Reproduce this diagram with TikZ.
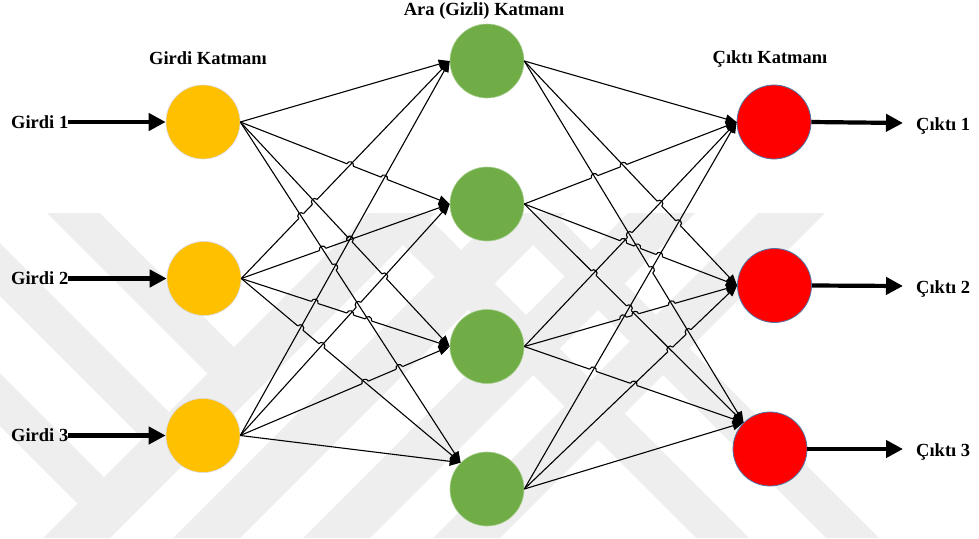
\documentclass[tikz,border=0pt]{standalone}
\usepackage{fontspec}
\setmainfont{Liberation Serif}
\usetikzlibrary{arrows.meta}
\definecolor{inyellow}{HTML}{FFC000}
\definecolor{hidgreen}{HTML}{70AD47}
\definecolor{outred}{HTML}{FF0000}
\definecolor{outedge}{HTML}{4F78A8}
\definecolor{wmark}{HTML}{EEEEEE}

% radius of the small jump drawn where two connectors cross
\newcommand\hopr{3.4}

% Draws every connector from each node in #1 to each point in #2.
% Where two connectors cross, the flatter one jumps over the steeper one:
% a small arc is drawn and the straight piece under it is clipped away
% (clockwise outer frame, anticlockwise holes, nonzero rule).
\newcommand\weightlayer[2]{%
  \foreach \sa in {#1} {%
    \foreach \tb in {#2} {%
      \path (\sa); \pgfgetlastxy{\ax}{\ay}%
      \path (\tb); \pgfgetlastxy{\bx}{\by}%
      \pgfmathsetmacro\rx{(\bx-\ax)/100}%
      \pgfmathsetmacro\ry{(\by-\ay)/100}%
      \pgfmathsetmacro\hopang{atan2(\ry,\rx)}%
      \pgfmathsetmacro\rc{\hopr*cos(\hopang)}%
      \pgfmathsetmacro\rs{\hopr*sin(\hopang)}%
      \gdef\hopholes{}%
      \foreach \sc in {#1} {%
        \foreach \td in {#2} {%
          \ifx\sc\sa\else\ifx\td\tb\else
            \path (\sc); \pgfgetlastxy{\cx}{\cy}%
            \path (\td); \pgfgetlastxy{\dx}{\dy}%
            \pgfmathsetmacro\ux{(\dx-\cx)/100}%
            \pgfmathsetmacro\uy{(\dy-\cy)/100}%
            \pgfmathsetmacro\wx{(\cx-\ax)/100}%
            \pgfmathsetmacro\wy{(\cy-\ay)/100}%
            \pgfmathsetmacro\den{\rx*\uy-\ry*\ux}%
            \pgfmathsetmacro\absden{abs(\den)}%
            \ifdim\absden pt>0.01pt
              \pgfmathsetmacro\tpar{(\wx*\uy-\wy*\ux)/\den}%
              \pgfmathsetmacro\spar{(\wx*\ry-\wy*\rx)/\den}%
              \pgfmathsetmacro\flatter{abs(\ry)*\ux<abs(\uy)*\rx}%
              \pgfmathsetmacro\inside{(\tpar>0.02)*(\tpar<0.98)*(\spar>0.02)*(\spar<0.98)*\flatter}%
              \ifdim\inside pt>0.5pt
                \pgfmathsetmacro\hx{\ax+\tpar*(\bx-\ax)}%
                \pgfmathsetmacro\hy{\ay+\tpar*(\by-\ay)}%
                \pgfmathsetmacro\hsx{\hx-\rc}%
                \pgfmathsetmacro\hsy{\hy-\rs}%
                \pgfmathsetmacro\anga{\hopang+180}%
                \draw[hopline] (\hsx pt,\hsy pt) arc[start angle=\anga, end angle=\hopang, radius=\hopr pt];
                \pgfmathsetmacro\pax{\hx+\rc+\rs}\pgfmathsetmacro\pay{\hy+\rs-\rc}%
                \pgfmathsetmacro\pbx{\hx+\rc-\rs}\pgfmathsetmacro\pby{\hy+\rs+\rc}%
                \pgfmathsetmacro\pcx{\hx-\rc-\rs}\pgfmathsetmacro\pcy{\hy-\rs+\rc}%
                \pgfmathsetmacro\pdx{\hx-\rc+\rs}\pgfmathsetmacro\pdy{\hy-\rs-\rc}%
                \xdef\hopholes{\hopholes (\pax pt,\pay pt) -- (\pbx pt,\pby pt) -- (\pcx pt,\pcy pt) -- (\pdx pt,\pdy pt) -- cycle}%
              \fi
            \fi
          \fi\fi
        }%
      }%
      \begin{scope}
        \clip (-20pt,20pt) -- (1000pt,20pt) -- (1000pt,-560pt) -- (-20pt,-560pt) -- cycle \hopholes;
        \draw[weight] (\sa) -- (\tb);
      \end{scope}
    }%
  }%
}

\begin{document}
\begin{tikzpicture}[x=1pt,y=-1pt,
  neuron/.style={circle,minimum size=74pt,inner sep=0pt},
  inneuron/.style={neuron,fill=inyellow,draw=black!15,line width=0.6pt},
  hidneuron/.style={neuron,fill=hidgreen,draw=hidgreen!60!white,line width=0.6pt},
  outneuron/.style={neuron,fill=outred,draw=outedge,line width=0.8pt},
  lbl/.style={font=\fontsize{18.5}{20}\selectfont\bfseries,inner sep=0pt},
  weight/.style={line width=1.1pt,-{Triangle[length=11pt,width=9pt]}},
  hopline/.style={line width=1.1pt},
  ioarrow/.style={line width=4.2pt,-{Triangle[length=17pt,width=17pt]}},
  band/.style={fill=wmark,draw=none}]
\useasboundingbox (0,0) rectangle (979,538);

% faint diagonal stripe backdrop
\begin{scope}
  \clip (0,213) rectangle (979,538);
  % rising stripes
  \foreach \k in {0,1,2,3} {
    \fill[band] (368+130*\k,213) -- (435+130*\k,213) -- (110+130*\k,538) -- (43+130*\k,538) -- cycle;
  }
  % falling stripes on the left, ending on the first rising stripe
  \foreach \m in {0,-1,-2} {
    \fill[band] (47+130*\m,213) -- (100+130*\m,213) -- (234+65*\m,347-65*\m) -- (207.5+65*\m,373.5-65*\m) -- cycle;
  }
  % falling stripes on the right, running from top to bottom
  \foreach \n in {0,1} {
    \fill[band] (371+130*\n,213) -- (424+130*\n,213) -- (749+130*\n,538) -- (696+130*\n,538) -- cycle;
  }
\end{scope}

% layers
\node[inneuron] (i1) at (203,122) {};
\node[inneuron] (i2) at (204,278.5) {};
\node[inneuron] (i3) at (203,435.5) {};
\node[hidneuron] (h1) at (487,61) {};
\node[hidneuron] (h2) at (487,204) {};
\node[hidneuron] (h3) at (487,346.5) {};
\node[hidneuron] (h4) at (487,489) {};
\node[outneuron] (o1) at (774,122) {};
\node[outneuron] (o2) at (774.5,285.5) {};
\node[outneuron] (o3) at (770,449) {};

% layer titles
\node[lbl,anchor=base] (t1) at (208,64) {Girdi Katmanı};
\node[lbl,anchor=base] (t2) at (484,15) {Ara (Gizli) Katmanı};
\node[lbl,anchor=base] (t3) at (770,63) {Çıktı Katmanı};

% input labels
\node[lbl,anchor=base west] (g1) at (11,128) {Girdi 1};
\node[lbl,anchor=base west] (g2) at (11,284.5) {Girdi 2};
\node[lbl,anchor=base west] (g3) at (11,441.5) {Girdi 3};
\coordinate (s1) at (68,122);
\coordinate (s2) at (68,278.5);
\coordinate (s3) at (68,435.5);

% output labels
\node[lbl,anchor=base west] (c1) at (916,130) {Çıktı 1};
\node[lbl,anchor=base west] (c2) at (916,293) {Çıktı 2};
\node[lbl,anchor=base west] (c3) at (916,456) {Çıktı 3};
\coordinate (e1) at (903,123);
\coordinate (e2) at (903,286);
\coordinate (e3) at (903,449);

% entry points on the receiving neurons
\coordinate (h1in) at (h1.west);
\coordinate (h2in) at (h2.west);
\coordinate (h3in) at (h3.west);
\coordinate (h4in) at (h4.135);
\coordinate (o1in) at (o1.west);
\coordinate (o2in) at (o2.west);
\coordinate (o3in) at (o3.135);

% input and output arrows
\foreach \k in {1,2,3} {
  \draw[ioarrow] (s\k) -- (i\k.west);
  \draw[ioarrow] (o\k.east) -- (e\k);
}

% weights
\weightlayer{i1.east,i2.east,i3.east}{h1in,h2in,h3in,h4in}
\weightlayer{h1.east,h2.east,h3.east,h4.east}{o1in,o2in,o3in}
\end{tikzpicture}
\end{document}
